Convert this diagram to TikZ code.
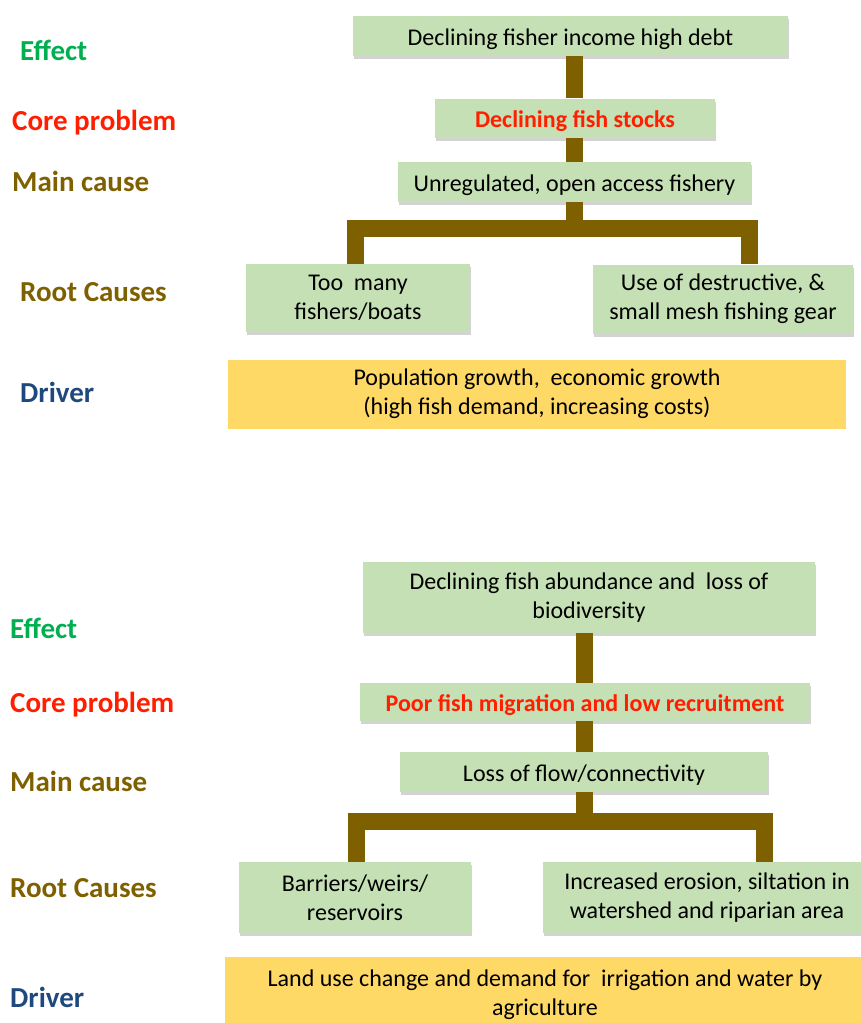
\documentclass[tikz,border=0pt]{standalone}
\usepackage{fontspec}
\setmainfont{Carlito}
\usetikzlibrary{shadows}

\definecolor{boxgreen}{RGB}{197,224,180}
\definecolor{driveryellow}{RGB}{255,217,102}
\definecolor{linkbrown}{RGB}{127,96,0}
\definecolor{effectgreen}{RGB}{0,176,80}
\definecolor{corered}{RGB}{255,30,0}
\definecolor{driverblue}{RGB}{31,73,125}

\tikzset{
    causebox/.style={
        rectangle, fill=boxgreen, draw=none,
        align=center, inner sep=2pt,
        font=\fontsize{24}{29}\selectfont,
        execute at begin node={\rule{0pt}{23pt}},
        drop shadow={shadow xshift=1pt, shadow yshift=-3pt, opacity=0.35},
    },
    driverbox/.style={
        rectangle, fill=driveryellow, draw=none,
        align=center, inner sep=2pt,
        font=\fontsize{24}{29}\selectfont,
        execute at begin node={\rule{0pt}{23pt}},
    },
    rowlabel/.style={
        rectangle, anchor=west, inner sep=0pt,
        text height=1.5ex, text depth=0.25ex,
        font=\fontsize{29}{35}\selectfont\bfseries,
    },
    link/.style={draw=linkbrown, line width=17pt},
}

\begin{document}
\begin{tikzpicture}[x=1pt, y=-1pt]
        \useasboundingbox (0,0) rectangle (861,1023);

        % first tree
        \node (effectLabelA) at(20,58) [rowlabel, text=effectgreen] {Effect};
        \node (coreLabelA) at(12,128) [rowlabel, text=corered] {Core problem};
        \node (mainLabelA) at(12,189) [rowlabel, text=linkbrown] {Main cause};
        \node (rootLabelA) at(20,299) [rowlabel, text=linkbrown] {Root Causes};
        \node (driverLabelA) at(20,400) [rowlabel, text=driverblue] {Driver};

        \node (effectA) at(570.5,36) [
            causebox, minimum width=435pt, minimum height=40pt,
        ] {Declining fisher income high debt};
        \node (coreA) at(575,118) [
            causebox, minimum width=280pt, minimum height=39pt,
            text=corered, font=\fontsize{24}{29}\selectfont\bfseries,
        ] {Declining fish stocks};
        \node (mainA) at(574.5,182) [
            causebox, minimum width=353pt, minimum height=40pt,
        ] {Unregulated, open access fishery};
        \node (rootA1) at(358,298) [
            causebox, minimum width=224pt, minimum height=68pt,
        ] {Too~ many\\fishers/boats};
        \node (rootA2) at(723,299) [
            causebox, minimum width=260pt, minimum height=69pt,
        ] {Use of destructive, \&\\small mesh fishing gear};
        \node (driverA) at(537,394) [
            driverbox, minimum width=618pt, minimum height=69pt,
        ] {Population growth,~ economic growth\\(high fish demand, increasing costs)};

        \coordinate (legA1) at(355,228.5);
        \coordinate (legA2) at(749,228.5);
        \draw[link] (effectA.south -| mainA.south) -- (coreA.north -| mainA.south);
        \draw[link] (coreA.south -| mainA.south) -- (mainA.north);
        \draw[link] (mainA.south) -- (mainA.south |- legA1);
        \draw[link] (legA1 |- rootA1.north) -- (legA1) -- (legA2) -- (legA2 |- rootA2.north);

        % second tree
        \node (effectLabelB) at(10,636) [rowlabel, text=effectgreen] {Effect};
        \node (coreLabelB) at(10,710) [rowlabel, text=corered] {Core problem};
        \node (mainLabelB) at(10,789) [rowlabel, text=linkbrown] {Main cause};
        \node (rootLabelB) at(10,895) [rowlabel, text=linkbrown] {Root Causes};
        \node (driverLabelB) at(10,1005) [rowlabel, text=driverblue] {Driver};

        \node (effectB) at(589,597.5) [
            causebox, minimum width=452pt, minimum height=71pt,
        ] {Declining fish abundance and~ loss of\\biodiversity};
        \node (coreB) at(585,702) [
            causebox, minimum width=450pt, minimum height=38pt,
            text=corered, font=\fontsize{24}{29}\selectfont\bfseries,
        ] {Poor fish migration and low recruitment};
        \node (mainB) at(584,772) [
            causebox, minimum width=368pt, minimum height=40pt,
        ] {Loss of flow/connectivity};
        \node (rootB1) at(355,897.5) [
            causebox, minimum width=232pt, minimum height=71pt,
        ] {Barriers/weirs/\\reservoirs};
        \node (rootB2) at(707,897.5) [
            causebox, minimum width=328pt, minimum height=71pt,
        ] {Increased erosion, siltation in\\watershed and riparian area};
        \node (driverB) at(545,995) [
            driverbox, minimum width=640pt, minimum height=76pt,
        ] {Land use change and demand for~ irrigation and water by\\agriculture};

        \coordinate (legB1) at(356.5,821.5);
        \coordinate (legB2) at(764.5,821.5);
        \draw[link] (effectB.south -| mainB.south) -- (coreB.north -| mainB.south);
        \draw[link] (coreB.south -| mainB.south) -- (mainB.north);
        \draw[link] (mainB.south) -- (mainB.south |- legB1);
        \draw[link] (legB1 |- rootB1.north) -- (legB1) -- (legB2) -- (legB2 |- rootB2.north);
    \end{tikzpicture}
\end{document}
